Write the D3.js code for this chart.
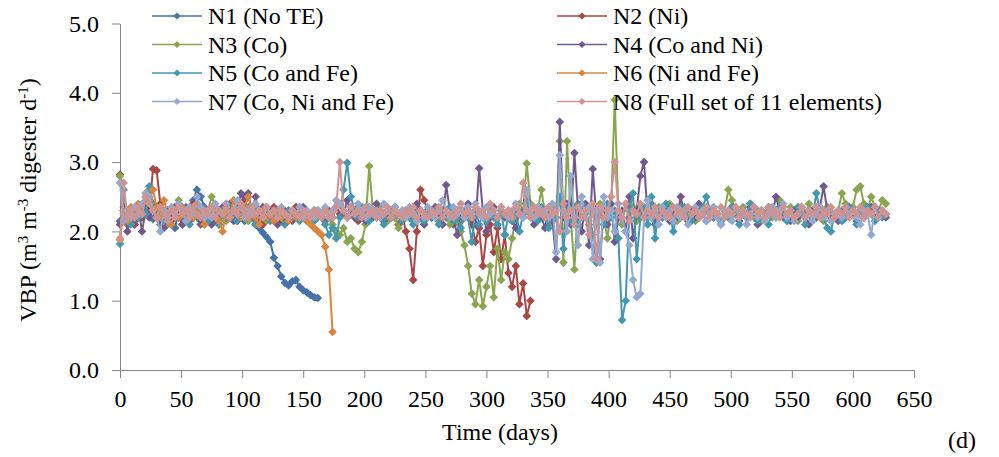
<!DOCTYPE html>
<html>
<head>
<meta charset="utf-8">
<title>VBP of digesters N1-N8</title>
<script src="https://cdn.jsdelivr.net/npm/d3@7"></script>
</head>
<body style="margin:0; background:#ffffff;">
<svg id="vbp_chart"></svg>
<script>
const serif_font = 'Liberation Serif';

// one reading every 3 days
const day_step = 3;

const series_names = [ 'N1 (No TE)', 'N2 (Ni)', 'N3 (Co)', 'N4 (Co and Ni)',
  'N5 (Co and Fe)', 'N6 (Ni and Fe)', 'N7 (Co, Ni and Fe)', 'N8 (Full set of 11 elements)' ];
const series_colors = [ '#4572A7', '#AA4643', '#89A54E', '#71588F', '#4198AF', '#DB843D', '#93A9CF', '#D19392' ];

const x_ticks = [ 0, 50, 100, 150, 200, 250, 300, 350, 400, 450, 500, 550, 600, 650 ];
const y_ticks = [ 0, 1, 2, 3, 4, 5 ];

const n1_values = [2.15,2.35,2.2,2.28,2.1,2.3,2.22,2.4,2.3,2.18,2.25,2.35,2.15,2.3,2.2,2.05,2.28,2.2,2.35,2.25,
  2.45,2.6,2.5,2.35,2.2,2.3,2.15,2.3,2.25,2.4,2.3,2.2,2.35,2.25,2.15,2.3,2.2,2.1,2.05,1.98,
  1.92,1.85,1.62,1.5,1.35,1.26,1.22,1.28,1.3,1.2,1.15,1.12,1.08,1.05,1.04];

const n2_values = [2.82,2.3,2.15,2.25,2.1,2.3,2.2,2.4,2.3,2.9,2.88,2.4,2.2,2.3,2.15,2.35,2.25,2.1,2.3,2.2,
  2.4,2.3,2.15,2.3,2.2,2.35,2.25,2.1,2.3,2.2,2.4,2.25,2.15,2.3,2.45,2.3,2.2,2.35,2.25,2.1,
  2.3,2.2,2.35,2.25,2.15,2.3,2.2,2.25,2.35,2.2,2.3,2.15,2.25,2.2,2.3,2.25,2.15,2.3,2.2,2.35,
  2.25,2.3,2.2,2.35,2.25,2.15,2.3,2.2,2.35,2.25,2.2,2.3,2.15,2.25,2.3,2.2,2.1,2.25,2.0,1.75,
  1.3,2.0,2.6,2.45,2.3,2.2,2.3,2.15,2.25,2.3,2.2,2.1,2.3,2.15,2.25,2.2,2.1,1.85,2.05,1.5,
  1.95,2.1,1.7,2.05,1.6,1.95,1.4,1.2,1.5,0.95,1.25,0.78,1.0];

const n3_values = [2.8,2.25,2.1,2.3,2.2,2.35,2.25,2.5,2.6,2.4,2.2,2.35,2.25,2.1,2.3,2.2,2.45,2.3,2.15,2.3,
  2.2,2.35,2.25,2.1,2.3,2.5,2.35,2.2,2.3,2.15,2.25,2.2,2.35,2.2,2.3,2.15,2.25,2.35,2.2,2.3,
  2.15,2.25,2.2,2.3,2.25,2.15,2.3,2.2,2.25,2.3,2.2,2.25,2.15,2.3,2.2,2.25,2.3,2.2,2.1,2.0,
  1.95,2.05,1.85,1.9,1.75,1.7,1.85,2.1,2.94,2.3,2.2,2.35,2.25,2.15,2.3,2.2,2.05,2.3,2.2,2.25,
  2.15,2.3,2.2,2.1,2.3,2.2,2.25,2.15,2.3,2.2,2.1,2.25,2.15,2.0,1.8,1.5,1.1,0.95,1.3,0.92,
  1.2,1.5,1.05,1.75,1.3,1.7,1.6,1.9,2.2,2.4,2.3,2.98,2.4,2.2,2.3,2.6,2.25,2.1,2.35,2.2,
  3.3,1.55,3.3,2.2,1.45,2.4,2.2,2.35,2.1,2.3,2.15,2.4,2.2,1.9,2.3,3.9,2.3,2.1,2.4,2.2,
  2.35,2.15,2.3,2.2,2.45,2.3,2.15,2.35,2.2,2.3,2.4,2.25,2.15,2.35,2.25,2.2,2.3,2.15,2.35,2.25,
  2.3,2.2,2.35,2.25,2.15,2.3,2.6,2.45,2.3,2.2,2.35,2.25,2.4,2.2,2.3,2.15,2.25,2.35,2.2,2.3,
  2.45,2.25,2.2,2.35,2.25,2.15,2.3,2.2,2.4,2.25,2.2,2.3,2.15,2.35,2.25,2.2,2.3,2.55,2.4,2.25,
  2.35,2.6,2.65,2.4,2.3,2.5,2.35,2.3,2.45,2.4];

const n4_values = [2.1,2.3,2.0,2.25,2.15,2.35,2.0,2.3,2.2,2.4,2.3,2.1,2.05,2.25,2.15,2.3,2.2,2.1,2.25,2.15,
  2.35,2.25,2.1,2.3,2.2,2.1,2.3,2.2,2.35,2.2,2.25,2.15,2.3,2.55,2.5,2.55,2.3,2.5,2.2,2.35,
  2.2,2.3,2.15,2.1,2.3,2.2,2.25,2.15,2.3,2.2,2.35,2.25,2.2,2.3,2.25,2.2,2.3,2.25,2.2,2.35,
  2.4,2.25,2.45,2.3,2.2,2.35,2.25,2.15,2.3,2.2,2.4,2.25,2.15,2.3,2.2,2.35,2.25,2.15,2.3,2.2,
  2.25,2.4,2.2,2.1,2.3,2.2,2.35,2.25,2.1,2.67,2.3,2.2,1.95,2.3,2.2,2.4,2.25,2.1,2.91,2.3,
  2.0,2.2,2.35,2.1,2.25,2.2,2.3,2.15,2.05,2.3,2.2,2.45,2.25,2.1,2.3,2.2,2.05,2.35,2.15,1.6,
  3.58,2.2,2.4,2.1,3.13,2.3,2.0,2.4,1.8,2.9,2.2,1.6,2.3,2.1,2.4,1.85,2.2,2.3,2.0,2.5,
  1.9,2.3,2.8,3.0,2.2,2.4,2.1,2.3,2.2,2.35,2.15,2.3,2.2,2.5,2.25,2.15,2.3,2.2,2.4,2.25,
  2.15,2.3,2.2,2.25,2.1,2.3,2.2,2.35,2.25,2.15,2.3,2.2,2.35,2.25,2.1,2.3,2.2,2.35,2.25,2.5,
  2.3,2.2,2.25,2.15,2.3,2.2,2.35,2.25,2.1,2.3,2.2,2.35,2.65,2.3,2.2,2.25,2.15,2.3,2.2,2.35,
  2.25,2.15,2.3,2.2,2.25,2.35,2.2,2.3,2.25,2.2];

const n5_values = [1.82,2.6,2.2,2.1,2.3,2.2,2.35,2.25,2.65,2.4,2.2,2.3,2.15,2.25,2.1,2.3,2.2,2.35,2.25,2.1,
  2.3,2.2,2.35,2.2,2.15,2.3,2.25,2.1,2.3,2.2,2.35,2.25,2.15,2.3,2.2,2.35,2.25,2.1,2.3,2.2,
  2.25,2.15,2.3,2.2,2.25,2.1,2.3,2.2,2.25,2.15,2.3,2.2,2.25,2.15,2.3,2.2,2.1,1.95,2.05,1.9,
  2.2,2.6,2.99,2.5,2.3,2.2,2.35,2.25,2.15,2.3,2.2,2.25,2.1,2.3,2.2,2.35,2.25,2.15,2.3,2.2,
  2.1,2.25,2.3,2.15,2.25,2.2,2.3,2.1,2.25,2.2,2.35,2.15,2.2,2.05,2.3,2.2,1.85,2.3,2.1,2.25,
  2.15,2.35,2.2,2.1,2.3,1.95,2.25,2.15,2.3,2.0,2.25,2.4,2.2,2.3,2.15,2.35,2.2,2.05,2.3,2.2,
  2.5,1.75,2.3,2.15,2.35,2.1,2.4,2.2,2.3,1.95,1.55,2.3,2.1,2.4,2.2,2.3,1.9,0.72,1.0,2.3,
  2.55,1.6,2.2,2.35,2.1,2.5,1.9,2.3,2.2,2.4,2.25,2.0,2.3,2.2,2.35,2.25,2.15,2.3,2.2,2.35,
  2.5,2.3,2.2,2.25,2.15,2.3,2.2,2.35,2.25,2.1,2.3,2.2,2.4,2.25,2.15,2.3,2.2,2.1,2.3,2.2,
  2.35,2.25,2.15,2.3,2.2,2.35,2.25,2.1,2.3,2.2,2.55,2.3,2.2,2.05,2.0,2.25,2.3,2.15,2.2,2.35,
  2.25,2.1,2.3,2.2,2.35,2.25,2.15,2.3,2.2,2.25];

const n6_values = [1.88,2.3,2.15,2.35,2.2,2.4,2.25,2.55,2.45,2.6,2.35,2.2,2.45,2.25,2.1,2.3,2.2,2.35,2.15,2.3,
  2.2,2.4,2.25,2.1,2.3,2.2,2.35,2.15,2.0,2.3,2.2,2.45,2.3,2.2,2.35,2.5,2.3,2.2,2.1,2.3,
  2.2,2.25,2.15,2.3,2.2,2.25,2.15,2.3,2.2,2.25,2.2,2.15,2.1,2.05,2.0,1.95,1.78,1.45,0.55];

const n7_values = [2.7,2.15,2.3,2.2,2.35,2.25,2.4,2.55,2.5,2.3,2.2,2.0,2.3,2.2,2.35,2.25,2.4,2.3,2.15,2.35,
  2.25,2.5,2.35,2.2,2.3,2.2,2.4,2.3,2.25,2.4,2.2,2.3,2.45,2.35,2.2,2.3,2.25,2.4,2.3,2.2,
  2.35,2.25,2.3,2.2,2.35,2.25,2.2,2.3,2.25,2.35,2.2,2.3,2.25,2.2,2.3,2.25,2.35,2.2,2.3,2.45,
  2.4,2.3,2.2,2.35,2.25,2.4,2.3,2.2,2.35,2.25,2.3,2.2,2.4,2.3,2.2,2.35,2.25,2.3,2.2,2.35,
  2.25,2.15,2.3,2.2,2.35,2.25,2.2,2.3,2.45,2.3,2.2,2.35,2.25,2.3,2.2,2.35,2.25,2.4,2.3,2.2,
  2.35,2.25,2.3,2.2,2.35,2.25,2.2,2.3,2.4,2.25,2.2,2.6,2.3,2.2,2.35,2.25,2.3,2.2,2.4,1.7,
  3.1,2.3,2.0,2.8,2.2,1.8,2.5,2.2,2.35,1.6,2.3,1.55,2.5,2.2,2.3,2.0,2.4,2.2,2.0,1.8,
  1.3,1.05,1.1,2.2,2.45,2.2,2.3,2.1,2.35,2.2,2.3,2.15,2.35,2.2,2.3,2.1,2.25,2.35,2.2,2.3,
  2.15,2.25,2.35,2.2,2.1,2.3,2.25,2.15,2.35,2.2,2.3,2.1,2.25,2.35,2.2,2.3,2.15,2.25,2.35,2.2,
  2.3,2.4,2.2,2.3,2.15,2.25,2.35,2.2,2.3,2.15,2.25,2.35,2.2,2.3,2.15,2.25,2.3,2.2,2.35,2.25,
  2.3,2.2,2.1,2.3,2.25,1.95,2.35,2.2,2.3,2.25];

const n8_values = [1.9,2.7,2.2,2.3,2.2,2.35,2.25,2.5,2.4,2.3,2.2,2.35,2.25,2.15,2.3,2.2,2.35,2.25,2.3,2.2,
  2.35,2.25,2.2,2.3,2.25,2.35,2.2,2.3,2.25,2.35,2.2,2.3,2.25,2.4,2.3,2.2,2.35,2.25,2.3,2.2,
  2.35,2.25,2.3,2.2,2.3,2.25,2.2,2.3,2.25,2.2,2.3,2.25,2.2,2.3,2.25,2.2,2.3,2.25,2.2,2.35,
  3.0,2.3,2.2,2.35,2.25,2.3,2.2,2.35,2.25,2.3,2.2,2.3,2.25,2.35,2.2,2.3,2.25,2.2,2.3,2.25,
  2.35,2.2,2.3,2.25,2.2,2.3,2.25,2.35,2.2,2.3,2.25,2.2,2.3,2.4,2.25,2.3,2.2,2.35,2.25,2.3,
  2.2,2.4,2.3,2.2,2.35,2.25,2.3,2.2,2.35,2.25,2.7,2.3,2.2,2.35,2.25,2.3,2.2,2.35,2.25,2.3,
  2.0,2.4,2.2,2.3,2.1,2.35,2.2,2.3,1.95,2.4,1.6,2.35,2.2,2.3,2.5,3.0,2.3,2.2,2.4,2.15,
  2.3,2.25,2.4,2.2,2.3,2.25,2.35,2.2,2.3,2.25,2.2,2.35,2.25,2.3,2.2,2.35,2.25,2.3,2.2,2.25,
  2.35,2.2,2.3,2.25,2.35,2.2,2.3,2.25,2.35,2.2,2.3,2.25,2.2,2.35,2.25,2.3,2.2,2.35,2.25,2.3,
  2.2,2.35,2.25,2.3,2.2,2.25,2.35,2.2,2.3,2.25,2.35,2.2,2.3,2.25,2.35,2.2,2.3,2.25,2.35,2.2,
  2.3,2.25,2.35,2.2,2.3,2.25,2.35,2.2,2.3,2.25];

const series_values = [ n1_values, n2_values, n3_values, n4_values, n5_values, n6_values, n7_values, n8_values ];

class VbpChart {
    constructor( config, data ){
        this.config = {
            parent: config.parent,
            width: config.width || 999,
            height: config.height || 457,
            margin: config.margin || { top:23.5, right:85, bottom:87, left:120 }
        };
        this.data = data;
        this.init();
    }

    init() {
        let self = this;

        self.svg = d3.select( self.config.parent )
            .attr( 'width', self.config.width )
            .attr( 'height', self.config.height );

        self.inner_width = self.config.width - self.config.margin.left - self.config.margin.right;
        self.inner_height = self.config.height - self.config.margin.top - self.config.margin.bottom;

        self.xscale = d3.scaleLinear()
            .domain( [ 0, 650 ] )
            .range( [ 0, self.inner_width ] );

        self.yscale = d3.scaleLinear()
            .domain( [ 0, 5 ] )
            .range( [ self.inner_height, 0 ] );

        self.xaxis = d3.axisBottom( self.xscale )
            .tickValues( x_ticks )
            .tickFormat( d3.format( 'd' ) )
            .tickSizeInner( 8 )
            .tickSizeOuter( 0 )
            .tickPadding( 12 );

        self.yaxis = d3.axisLeft( self.yscale )
            .tickValues( y_ticks )
            .tickFormat( d3.format( '.1f' ) )
            .tickSizeInner( 8 )
            .tickSizeOuter( 0 )
            .tickPadding( 13 );

        self.line = d3.line()
            .x( d => self.xscale( d.day ) )
            .y( d => self.yscale( d.vbp ) );
    }

    update() {
        let self = this;
        self.render();
    }

    // every marker of one series as a single path of small diamonds
    diamonds( points, r ) {
        let self = this;
        return points.map( d => {
            const x = self.xscale( d.day ), y = self.yscale( d.vbp );
            return `M${x},${y - r}L${x + r},${y}L${x},${y + r}L${x - r},${y}Z`;
        }).join( '' );
    }

    render() {
        let self = this;

        // texts first
        self.svg.append( 'text' )
            .attr( 'x', self.config.margin.left + self.inner_width / 2 - 17 )
            .attr( 'y', 440 )
            .attr( 'text-anchor', 'middle' )
            .attr( 'font-family', serif_font )
            .attr( 'font-size', 24 )
            .text( 'Time (days)' );

        const ytitle = self.svg.append( 'text' )
            .attr( 'transform', 'translate(36, 200) rotate(-90)' )
            .attr( 'text-anchor', 'middle' )
            .attr( 'font-family', serif_font )
            .attr( 'font-size', 24 );
        ytitle.append( 'tspan' ).text( 'VBP (m' );
        ytitle.append( 'tspan' ).attr( 'baseline-shift', 'super' ).attr( 'font-size', 15 ).text( '3' );
        ytitle.append( 'tspan' ).text( ' m' );
        ytitle.append( 'tspan' ).attr( 'baseline-shift', 'super' ).attr( 'font-size', 15 ).text( '-3' );
        ytitle.append( 'tspan' ).text( ' digester d' );
        ytitle.append( 'tspan' ).attr( 'baseline-shift', 'super' ).attr( 'font-size', 15 ).text( '-1' );
        ytitle.append( 'tspan' ).text( ')' );

        self.svg.append( 'text' )
            .attr( 'x', 948 )
            .attr( 'y', 448 )
            .attr( 'font-family', serif_font )
            .attr( 'font-size', 24 )
            .text( '(d)' );

        self.chart = self.svg.append( 'g' )
            .attr( 'transform', `translate(${self.config.margin.left}, ${self.config.margin.top})` );

        self.xaxis_group = self.chart.append( 'g' )
            .attr( 'transform', `translate(0, ${self.inner_height})` )
            .call( self.xaxis );

        self.yaxis_group = self.chart.append( 'g' )
            .call( self.yaxis );

        [ self.xaxis_group, self.yaxis_group ].forEach( g => {
            g.attr( 'font-family', serif_font ).attr( 'font-size', 24 );
            g.select( '.domain' ).attr( 'stroke', '#868686' );
            g.selectAll( '.tick line' ).attr( 'stroke', '#868686' );
            g.selectAll( '.tick text' ).attr( 'fill', '#000' );
        });

        self.data.forEach( s => {
            self.chart.append( 'path' )
                .attr( 'd', self.line( s.points ) )
                .attr( 'stroke', s.color )
                .attr( 'stroke-width', 2 )
                .attr( 'fill', 'none' );
            self.chart.append( 'path' )
                .attr( 'd', self.diamonds( s.points, 4.3 ) )
                .attr( 'fill', s.color );
        });

        // legend, two columns of four
        const legend = self.svg.append( 'g' );
        self.data.forEach( ( s, i ) => {
            const lx = i % 2 === 0 ? 152 : 557;
            const ly = 16 + Math.floor( i / 2 ) * 28.5;
            const item = legend.append( 'g' )
                .attr( 'transform', `translate(${lx}, ${ly})` );
            item.append( 'line' )
                .attr( 'x1', 0 ).attr( 'x2', 50 )
                .attr( 'stroke', s.color )
                .attr( 'stroke-width', 1.6 );
            item.append( 'path' )
                .attr( 'd', 'M25,-3.6L28.6,0L25,3.6L21.4,0Z' )
                .attr( 'fill', s.color );
            item.append( 'text' )
                .attr( 'x', 56 )
                .attr( 'y', 8 )
                .attr( 'font-family', serif_font )
                .attr( 'font-size', 24 )
                .text( s.name );
        });
    }
}

const chart_data = series_names.map( ( name, k ) => ({
    name: name,
    color: series_colors[k],
    points: series_values[k].map( ( v, i ) => ({ day: i * day_step, vbp: v }) )
}));

const line_chart = new VbpChart( { parent: '#vbp_chart' }, chart_data );
line_chart.update();
</script>
</body>
</html>
